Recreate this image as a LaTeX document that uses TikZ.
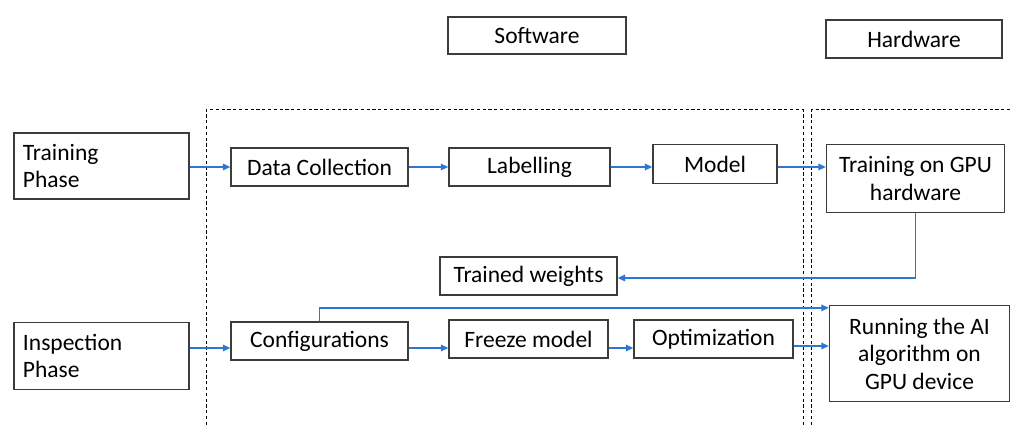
\documentclass[tikz,border=0pt]{standalone}
\usepackage{fontspec}
\setmainfont{Carlito}
\usetikzlibrary{arrows.meta}
\definecolor{arrowblue}{RGB}{45,118,212}
\definecolor{boxgray}{RGB}{60,60,60}
\tikzset{
  box/.style={draw=boxgray, line width=1.3pt, inner sep=6pt, font=\fontsize{23.5}{27.5}\selectfont, align=center},
  leftbox/.style={box, align=left, text width=#1},
  conn/.style={draw=arrowblue, line width=1.3pt, -{Triangle[length=7.5pt,width=6.5pt]}},
  region/.style={draw=black, line width=1pt, dash pattern=on 3.2pt off 2.6pt},
}
\begin{document}
\begin{tikzpicture}[x=1pt,y=-1pt]
\useasboundingbox[fill=white] (0,0) rectangle (1012,425);
% dashed regions
\draw[region] (206,425) -- (206,110) -- (803,110) -- (803,425);
\draw[region] (811.5,425) -- (811.5,110) -- (1012,110);
% headers
\node[box, minimum width=178pt, minimum height=37pt] (sw) at (537,35.5) {Software};
\node[box, minimum width=176pt, minimum height=38pt] (hw) at (914,39) {Hardware};
% training row
\node[leftbox=157pt, minimum width=175pt, minimum height=66pt, inner sep=8pt] (tp) at (101.5,166) {Training\\Phase};
\node[box, minimum width=177pt, minimum height=38pt] (dc) at (319.5,167) {Data Collection};
\node[box, minimum width=161pt, minimum height=38pt] (lab) at (529.5,167) {Labelling};
\node[box, minimum width=124pt, minimum height=39pt] (mod) at (715,164) {Model};
\node[box, minimum width=178pt, minimum height=68pt] (gpu) at (915.5,178.5) {Training on GPU\\hardware};
\node[box, minimum width=177pt, minimum height=38pt] (tw) at (528.5,276) {Trained weights};
% inspection row
\node[leftbox=157pt, minimum width=175pt, minimum height=67pt, inner sep=8pt] (ip) at (101.5,356) {Inspection\\Phase};
\node[box, minimum width=177pt, minimum height=38pt] (cfg) at (319.5,341) {Configurations};
\node[box, minimum width=159pt, minimum height=38pt] (frz) at (528.5,339) {Freeze model};
\node[box, minimum width=159pt, minimum height=38pt] (opt) at (713.5,339) {Optimization};
\node[box, minimum width=180pt, minimum height=96pt] (run) at (919.5,353.5) {Running the AI\\algorithm on\\GPU device};
% connectors
\draw[conn] (tp.east |- dc.west) -- (dc.west);
\draw[conn] (dc.east) -- (lab.west);
\draw[conn] (lab.east) -- (lab.east -| mod.west);
\draw[conn] ([yshift=-3pt]mod.east) -- ([yshift=-3pt]mod.east -| gpu.west);
\draw[conn] (gpu.south) |- ([yshift=-2pt]tw.east);
\draw[conn] (ip.east |- 0,348) -- (cfg.west |- 0,348);
\draw[conn] (cfg.east |- 0,348) -- (frz.west |- 0,348);
\draw[conn] (frz.east |- 0,348) -- (opt.west |- 0,348);
\draw[conn] (opt.east |- 0,346) -- (run.west |- 0,346);
\draw[conn] (cfg.north) |- ([yshift=-3pt]run.north west);
\end{tikzpicture}
\end{document}
